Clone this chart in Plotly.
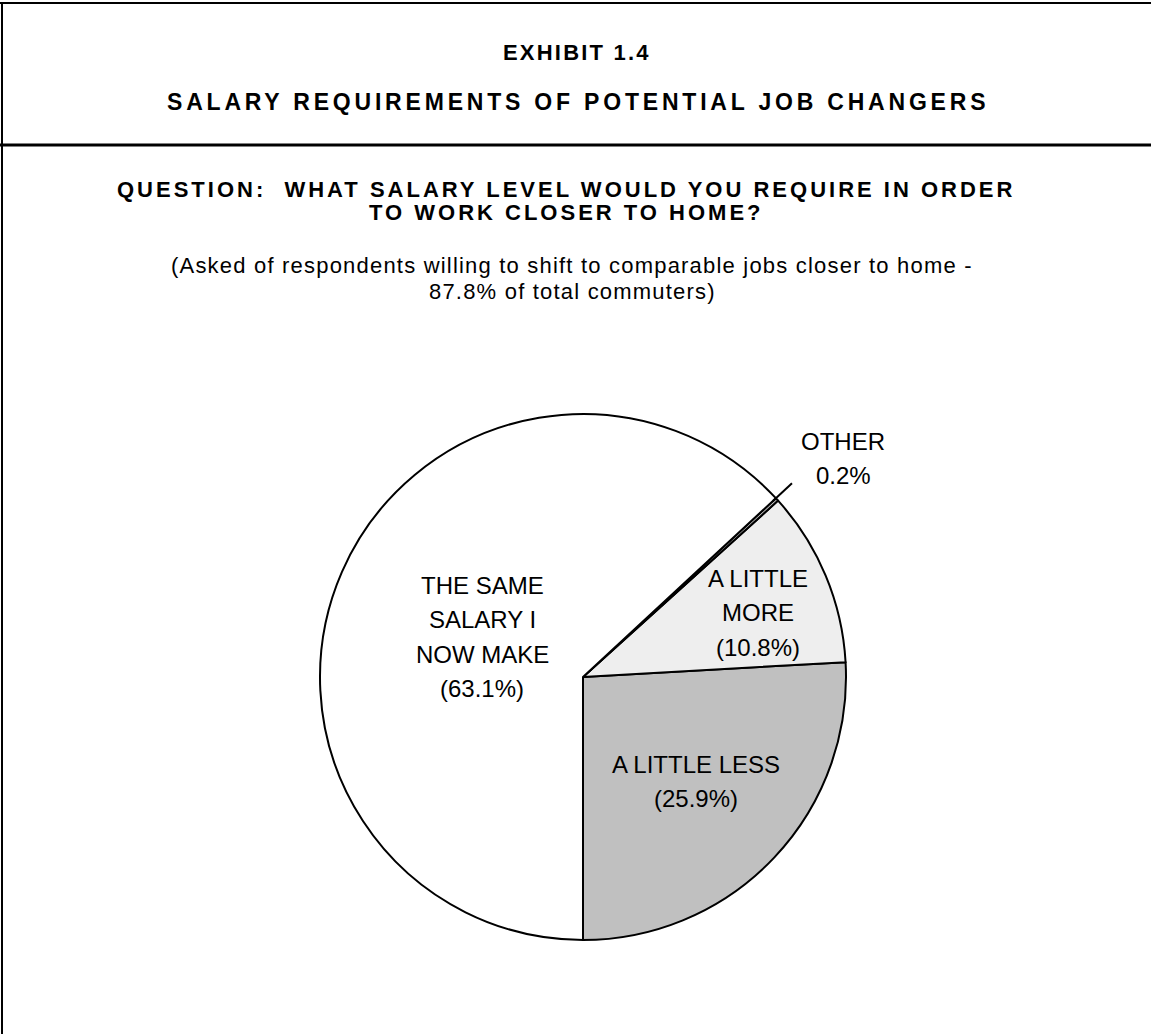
import math
import plotly.graph_objects as go

# ---- data ----
categories = ["A LITTLE LESS", "A LITTLE MORE", "OTHER", "THE SAME SALARY I NOW MAKE"]
values = [25.9, 10.8, 0.2, 63.1]
label_lines = [["A LITTLE LESS"], ["A LITTLE", "MORE"], ["OTHER"], ["THE SAME", "SALARY I", "NOW MAKE"]]
pct_text = ["(25.9%)", "(10.8%)", "0.2%", "(63.1%)"]
slice_colors = ["#c0c0c0", "#eeeeee", "#c0c0c0", "#ffffff"]

title1 = "EXHIBIT 1.4"
title2 = "SALARY REQUIREMENTS OF POTENTIAL JOB CHANGERS"
question_lines = ["QUESTION:  WHAT SALARY LEVEL WOULD YOU REQUIRE IN ORDER", "TO WORK CLOSER TO HOME?"]
note_lines = ["(Asked of respondents willing to shift to comparable jobs closer to home -", "87.8% of total commuters)"]

# ---- layout geometry (pixels) ----
W, H = 1151, 1034
CX, CY, R = 583, 677, 263
FONT = "Arial, 'Liberation Sans', Helvetica, sans-serif"

def px(x):
    return x / W

def py(y):
    return 1 - y / H

total = sum(values)
# first slice (counterclockwise) starts at 6 o'clock
rot = 180 - values[0] / total * 360

fig = go.Figure()
fig.add_trace(go.Pie(
    labels=categories, values=values, sort=False, direction="counterclockwise",
    rotation=rot, textinfo="none", hoverinfo="label+percent",
    marker=dict(colors=slice_colors, line=dict(color="black", width=2)),
    domain=dict(x=[px(CX - R), px(CX + R)], y=[py(CY + R), py(CY - R)]),
    showlegend=False,
))

annotations = []

def add_text(txt, x, y, size=24, bold=False, ls=0):
    t = txt
    if bold:
        t = "<b>" + t + "</b>"
    if ls:
        t = '<span style="letter-spacing:%spx">%s</span>' % (ls, t)
    annotations.append(dict(text=t, x=px(x), y=py(y), xref="paper", yref="paper",
                            xanchor="center", yanchor="middle", showarrow=False,
                            font=dict(family=FONT, size=size, color="black")))

add_text(title1, 577, 52, size=22, bold=True, ls=2.2)
add_text(title2, 578, 102, size=23, bold=True, ls=3.8)
add_text(question_lines[0], 566, 189, size=22, bold=True, ls=3)
add_text(question_lines[1], 566, 212, size=22, bold=True, ls=3)
add_text(note_lines[0], 572, 265, size=22, ls=1.2)
add_text(note_lines[1], 572, 291, size=22, ls=1.2)

label_pos = [(696, 764), (758, 578), (843, 441), (482, 585)]
step = 34.5
for lines, pct, (lx, ly) in zip(label_lines, pct_text, label_pos):
    for i, ln in enumerate(lines + [pct]):
        add_text(ln, lx, ly + i * step, size=24)

# leader line for the tiny OTHER slice (continuing its boundary outward)
cum = values[0] + values[1] + values[2]
ang = math.radians(-90 + cum / total * 360)
r0, r1 = R - 4, R + 22
shapes = [
    dict(type="line", xref="paper", yref="paper",
         x0=px(CX + r0 * math.cos(ang)), y0=py(CY - r0 * math.sin(ang)),
         x1=px(CX + r1 * math.cos(ang)), y1=py(CY - r1 * math.sin(ang)),
         line=dict(color="black", width=2)),
    # frame lines
    dict(type="line", xref="paper", yref="paper", x0=0, x1=1, y0=py(3), y1=py(3),
         line=dict(color="black", width=2)),
    dict(type="line", xref="paper", yref="paper", x0=0, x1=1, y0=py(145), y1=py(145),
         line=dict(color="black", width=3)),
    dict(type="line", xref="paper", yref="paper", x0=px(2), x1=px(2), y0=0, y1=py(3),
         line=dict(color="black", width=2)),
]

fig.update_layout(
    width=W, height=H, margin=dict(l=0, r=0, t=0, b=0),
    paper_bgcolor="white", plot_bgcolor="white",
    annotations=annotations, shapes=shapes,
)

fig.write_html("out.html", config={"displayModeBar": False})
